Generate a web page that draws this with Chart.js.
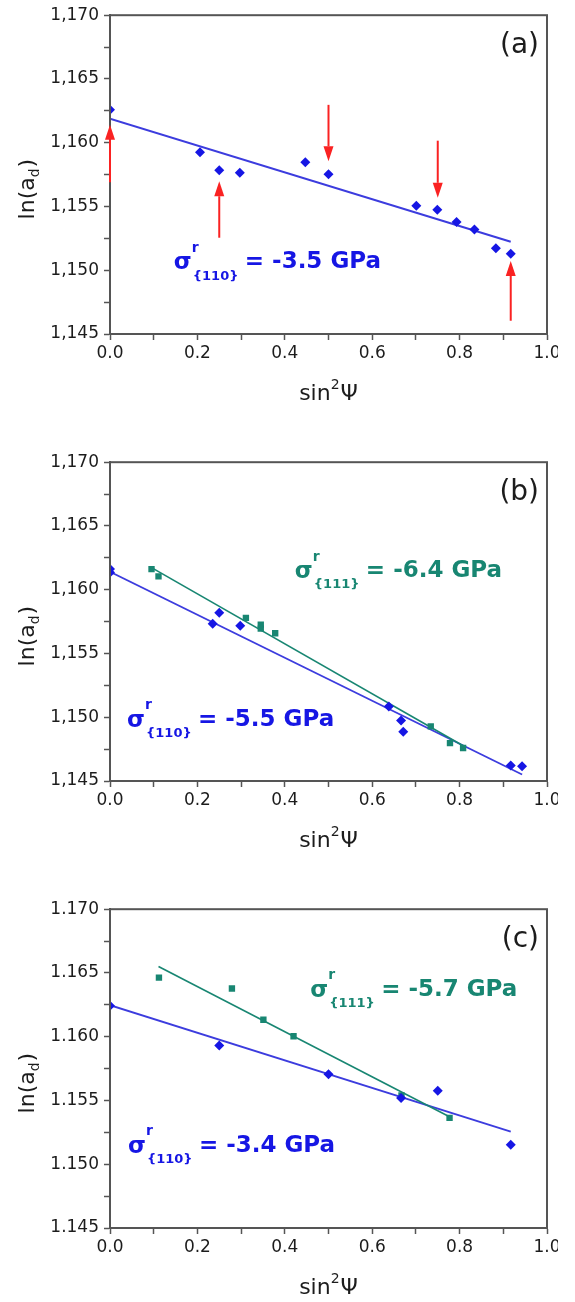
<!DOCTYPE html>
<html>
<head>
<meta charset="utf-8">
<script src="https://cdn.jsdelivr.net/npm/chart.js@4.4.0/dist/chart.umd.min.js"></script>
<style>
  html, body { margin: 0; padding: 0; background: #fff; overflow: hidden; }
  .clip { position: absolute; left: 0; width: 558px; overflow: hidden; }
  .panel { position: relative; width: 575px; height: 100%; }
</style>
</head>
<body>
<div class="clip" style="top:0px;height:447px"><div class="panel"><canvas id="chart-a"></canvas></div></div>
<div class="clip" style="top:447px;height:447px"><div class="panel"><canvas id="chart-b"></canvas></div></div>
<div class="clip" style="top:894px;height:408px"><div class="panel"><canvas id="chart-c"></canvas></div></div>
<script>
// ---- (a) {110} lattice parameter vs sin^2(psi)
const aX110 = [0.0, 0.206, 0.250, 0.297, 0.447, 0.500, 0.701, 0.749, 0.793, 0.834, 0.883, 0.917];
const aY110 = [1.16258, 1.15925, 1.15784, 1.15764, 1.15846, 1.15752, 1.15505, 1.15474, 1.15378, 1.15320, 1.15172, 1.15130];
const aFitX = [0.0, 0.917];
const aFitY = [1.16188, 1.15224];
// red arrows: position, tail, tip
const arrowX = [0.0, 0.25, 0.5, 0.75, 0.917];
const arrowFrom = [1.1569, 1.15255, 1.16297, 1.16016, 1.14604];
const arrowTo = [1.1614, 1.15698, 1.15854, 1.15568, 1.15073];

// ---- (b)
const bX110 = [0.0, 0.0, 0.235, 0.250, 0.298, 0.638, 0.666, 0.671, 0.917, 0.943];
const bY110 = [1.16162, 1.16136, 1.15733, 1.15820, 1.15718, 1.15085, 1.14974, 1.14887, 1.14621, 1.14615];
const bX111 = [0.095, 0.111, 0.311, 0.345, 0.345, 0.378, 0.734, 0.778, 0.808];
const bY111 = [1.16162, 1.16105, 1.15779, 1.15726, 1.15695, 1.15659, 1.14928, 1.14797, 1.14759];
const bFit110X = [0.0, 0.943];
const bFit110Y = [1.16141, 1.14551];
const bFit111X = [0.092, 0.808];
const bFit111Y = [1.16179, 1.14776];

// ---- (c)
const cX110 = [0.0, 0.250, 0.500, 0.666, 0.750, 0.917];
const cY110 = [1.16242, 1.15932, 1.15705, 1.15519, 1.15576, 1.15153];
const cX111 = [0.112, 0.279, 0.351, 0.420, 0.667, 0.777];
const cY111 = [1.16463, 1.16378, 1.16133, 1.16004, 1.15540, 1.15364];
const cFit110X = [0.0, 0.917];
const cFit110Y = [1.16247, 1.15256];
const cFit111X = [0.111, 0.779];
const cFit111Y = [1.16551, 1.15369];

// tick labels
const xTickLabels = ['0.0', '0.2', '0.4', '0.6', '0.8', '1.0'];
const yTickLabelsComma = ['1,145', '1,150', '1,155', '1,160', '1,165', '1,170'];
const yTickLabelsDot = ['1.145', '1.150', '1.155', '1.160', '1.165', '1.170'];

const blue = 'rgb(22, 22, 228)';
const blueLine = 'rgb(60, 60, 222)';
const teal = 'rgb(24, 134, 114)';
const red = 'rgb(250, 34, 34)';
const axisColor = '#555555';
const inkColor = '#1c1c1c';

Chart.defaults.font.family = '"DejaVu Sans", sans-serif';

function pts(xs, ys) {
  return xs.map((x, i) => ({ x: x, y: ys[i] }));
}

function marks(xs, ys, color, style, r) {
  return {
    data: pts(xs, ys), backgroundColor: color, borderColor: color, borderWidth: 0,
    pointStyle: style, pointRadius: r, pointHoverRadius: r
  };
}

function fitLine(xs, ys, color, w) {
  return {
    data: pts(xs, ys), showLine: true, borderColor: color, borderWidth: w,
    pointRadius: 0, pointHoverRadius: 0, fill: false
  };
}

// only every other tick gets a label, the rest are minor ticks
function majorLabel(labels, v, start, step) {
  const k = (v - start) / step;
  const r = Math.round(k);
  return Math.abs(k - r) < 1e-6 ? labels[r] : '';
}

function xScale() {
  return {
    type: 'linear', min: 0, max: 1,
    afterFit: s => { s.height = s.chart.height - 334; },
    border: { display: true, color: axisColor, width: 2 },
    grid: { drawOnChartArea: false, drawTicks: true, tickLength: 6, tickColor: axisColor, tickWidth: 1.5 },
    ticks: {
      stepSize: 0.1, autoSkip: false, maxRotation: 0, color: inkColor, padding: 3,
      font: { size: 17 },
      callback: v => majorLabel(xTickLabels, v, 0, 0.2)
    }
  };
}

function yScale(labels) {
  return {
    type: 'linear', min: 1.145, max: 1.170,
    afterFit: s => { s.width = 110; },
    border: { display: true, color: axisColor, width: 2 },
    grid: { drawOnChartArea: false, drawTicks: true, tickLength: 6, tickColor: axisColor, tickWidth: 1.5 },
    ticks: {
      stepSize: 0.0025, autoSkip: false, color: inkColor, padding: 5,
      font: { size: 17 },
      callback: v => majorLabel(labels, v, 1.145, 0.005)
    }
  };
}

function drawStress(ctx, x, y, sub, text, color) {
  ctx.fillStyle = color;
  ctx.textAlign = 'left';
  ctx.textBaseline = 'middle';
  ctx.font = 'bold 23px "DejaVu Sans"';
  ctx.fillText('σ', x, y + 1);
  ctx.font = 'bold 14px "DejaVu Sans"';
  ctx.fillText('r', x + 18, y - 14);
  ctx.font = 'bold 13px "DejaVu Sans"';
  ctx.fillText(sub, x + 19, y + 14);
  ctx.font = 'bold 23px "DejaVu Sans"';
  ctx.fillText(text, x + 71, y);
}

function drawArrow(ctx, x, y0, y1) {
  const dir = Math.sign(y1 - y0);
  const headLen = 15, headHalf = 5;
  ctx.strokeStyle = red;
  ctx.fillStyle = red;
  ctx.lineWidth = 2;
  ctx.beginPath();
  ctx.moveTo(x, y0);
  ctx.lineTo(x, y1 - dir * headLen);
  ctx.stroke();
  ctx.beginPath();
  ctx.moveTo(x, y1);
  ctx.lineTo(x - headHalf, y1 - dir * headLen);
  ctx.lineTo(x + headHalf, y1 - dir * headLen);
  ctx.closePath();
  ctx.fill();
}

const panelDecor = {
  id: 'panelDecor',
  afterDraw(chart, args, opts) {
    const ctx = chart.ctx;
    const a = chart.chartArea;
    const sx = chart.scales.x, sy = chart.scales.y;
    ctx.save();

    // closed frame
    ctx.strokeStyle = axisColor;
    ctx.lineWidth = 2;
    ctx.strokeRect(a.left, a.top, a.right - a.left, a.bottom - a.top);

    if (opts.arrows) {
      const ar = opts.arrows;
      ar.x.forEach((v, i) => {
        drawArrow(ctx, sx.getPixelForValue(v), sy.getPixelForValue(ar.from[i]), sy.getPixelForValue(ar.to[i]));
      });
    }

    (opts.notes || []).forEach(n => {
      drawStress(ctx, sx.getPixelForValue(n.x), sy.getPixelForValue(n.y), n.sub, n.text, n.color);
    });

    // panel letter
    ctx.fillStyle = inkColor;
    ctx.font = '28px "DejaVu Sans"';
    ctx.textAlign = 'right';
    ctx.textBaseline = 'middle';
    ctx.fillText(opts.tag, a.right - 8, a.top + 31);

    // x title sin^2 psi, small raised 2
    const big = '22px "DejaVu Sans"', small = '14px "DejaVu Sans"';
    ctx.textAlign = 'left';
    ctx.font = big;
    const s1 = ctx.measureText('sin').width, s3 = ctx.measureText('Ψ').width;
    ctx.font = small;
    const s2 = ctx.measureText('2').width;
    let tx = (a.left + a.right) / 2 - (s1 + s2 + s3 + 1) / 2;
    const ty = a.bottom + 60;
    ctx.font = big;
    ctx.fillText('sin', tx, ty);
    ctx.font = small;
    ctx.fillText('2', tx + s1, ty - 9);
    ctx.font = big;
    ctx.fillText('Ψ', tx + s1 + s2 + 1, ty);

    // y title ln(a_d), rotated
    ctx.translate(28, (a.top + a.bottom) / 2 + 15);
    ctx.rotate(-Math.PI / 2);
    ctx.font = big;
    const w1 = ctx.measureText('ln(a').width;
    const w3 = ctx.measureText(')').width;
    ctx.font = small;
    const w2 = ctx.measureText('d').width;
    const x0 = -(w1 + w2 + w3) / 2;
    ctx.font = big;
    ctx.fillText('ln(a', x0, 0);
    ctx.font = small;
    ctx.fillText('d', x0 + w1, 7);
    ctx.font = big;
    ctx.fillText(')', x0 + w1 + w2 + 1, 0);
    ctx.restore();
  }
};

function makePanel(id, tag, yLabels, datasets, notes, arrows) {
  return new Chart(document.getElementById(id), {
    type: 'scatter',
    data: { datasets: datasets },
    options: {
      responsive: true,
      maintainAspectRatio: false,
      animation: false,
      events: [],
      layout: { padding: { top: 13, right: 28, left: 0, bottom: 0 } },
      plugins: {
        legend: { display: false },
        tooltip: { enabled: false },
        panelDecor: { tag: tag, notes: notes, arrows: arrows }
      },
      scales: { x: xScale(), y: yScale(yLabels) }
    },
    plugins: [panelDecor]
  });
}

makePanel('chart-a', '(a)', yTickLabelsComma, [
  marks(aX110, aY110, blue, 'rectRot', 5),
  fitLine(aFitX, aFitY, blueLine, 2)
], [
  { x: 0.146, y: 1.15061, sub: '{110}', text: '= -3.5 GPa', color: blue }
], { x: arrowX, from: arrowFrom, to: arrowTo });

makePanel('chart-b', '(b)', yTickLabelsComma, [
  marks(bX110, bY110, blue, 'rectRot', 5),
  marks(bX111, bY111, teal, 'rect', 4.5),
  fitLine(bFit111X, bFit111Y, teal, 1.6),
  fitLine(bFit110X, bFit110Y, blueLine, 1.8)
], [
  { x: 0.423, y: 1.16146, sub: '{111}', text: '= -6.4 GPa', color: teal },
  { x: 0.039, y: 1.14981, sub: '{110}', text: '= -5.5 GPa', color: blue }
], null);

makePanel('chart-c', '(c)', yTickLabelsDot, [
  marks(cX110, cY110, blue, 'rectRot', 5),
  marks(cX111, cY111, teal, 'rect', 4.5),
  fitLine(cFit111X, cFit111Y, teal, 1.6),
  fitLine(cFit110X, cFit110Y, blueLine, 1.8)
], [
  { x: 0.458, y: 1.16369, sub: '{111}', text: '= -5.7 GPa', color: teal },
  { x: 0.041, y: 1.15146, sub: '{110}', text: '= -3.4 GPa', color: blue }
], null);
</script>
</body>
</html>
